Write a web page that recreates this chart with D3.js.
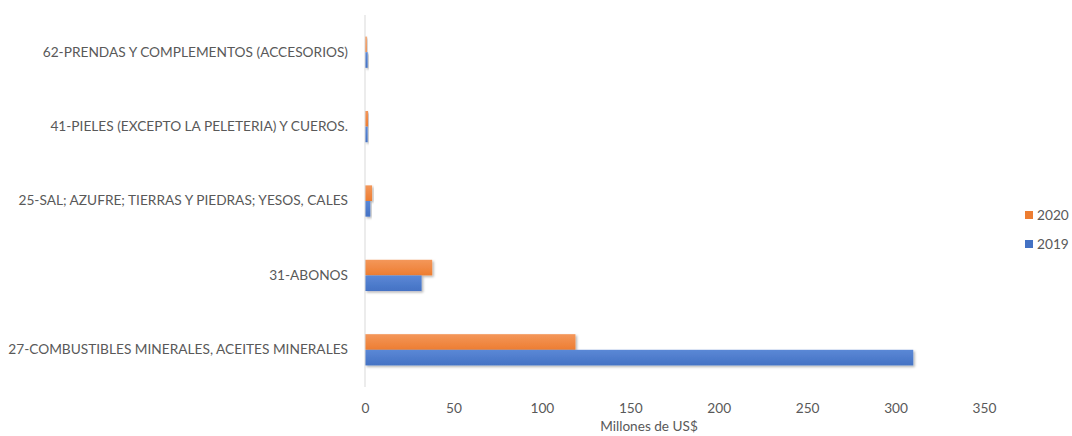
<!DOCTYPE html>
<html><head><meta charset="utf-8">
<script src="https://cdn.jsdelivr.net/npm/d3@7"></script>
<style>
body{margin:0;background:#fff;}
text{font-family:Lato,"Open Sans",sans-serif;fill:#595959;}
</style></head>
<body><svg id="c" width="1072" height="436"></svg>
<script>
const categories = ["62-PRENDAS Y COMPLEMENTOS (ACCESORIOS)","41-PIELES (EXCEPTO LA PELETERIA) Y CUEROS.","25-SAL; AZUFRE; TIERRAS Y PIEDRAS; YESOS, CALES","31-ABONOS","27-COMBUSTIBLES MINERALES, ACEITES MINERALES"];
const seriesNames = ["2020","2019"];
const values2020 = [1.0, 1.7, 4, 38, 119];
const values2019 = [1.5, 1.5, 3, 32, 310];
const xTicks = [0,50,100,150,200,250,300,350];
const colors = {"2020":"#ED7D31","2019":"#4472C4"};
const colorsLight = {"2020":"#F4975A","2019":"#5B88D6"};

const svg = d3.select("#c");
const mLeft = 365, mRight = 984, mTop = 15, mBottom = 387;
const x = d3.scaleLinear().domain([0,350]).range([mLeft,mRight]);
const y = d3.scaleBand().domain(categories).range([mTop,mBottom]).paddingInner(0.58).paddingOuter(0.29);
const ys = d3.scaleBand().domain(seriesNames).range([0,y.bandwidth()]);

const defs = svg.append("defs");
seriesNames.forEach(s=>{
  const g = defs.append("linearGradient").attr("id","g"+s).attr("x1",0).attr("x2",0).attr("y1",0).attr("y2",1);
  g.append("stop").attr("offset","0%").attr("stop-color",colorsLight[s]);
  g.append("stop").attr("offset","100%").attr("stop-color",colors[s]);
});
const f = defs.append("filter").attr("id","sh").attr("x","-5%").attr("y","-20%").attr("width","120%").attr("height","160%");
f.append("feDropShadow").attr("dx",1.5).attr("dy",1.5).attr("stdDeviation",1).attr("flood-color","#000").attr("flood-opacity",0.3);

const data = {"2020":values2020,"2019":values2019};
seriesNames.forEach(s=>{
  svg.append("g").selectAll("rect").data(categories).join("rect")
    .attr("x",x(0))
    .attr("y",(c)=>y(c)+ys(s))
    .attr("width",(c,i)=>x(data[s][i])-x(0))
    .attr("height",ys.bandwidth())
    .attr("fill","url(#g"+s+")")
    .attr("filter","url(#sh)");
});

svg.append("line").attr("x1",x(0)).attr("x2",x(0)).attr("y1",mTop).attr("y2",mBottom)
  .attr("stroke","#d9d9d9").attr("stroke-width",1);

const yAxis = d3.axisLeft(y).tickSize(0).tickPadding(17);
const ya = svg.append("g").attr("transform",`translate(${x(0)},0)`).call(yAxis);
ya.select(".domain").remove();
ya.selectAll("text").style("font-size","13.7px").style("font-family","Lato, 'Open Sans', sans-serif").attr("fill","#595959");

const xAxis = d3.axisBottom(x).tickValues(xTicks).tickSize(0).tickPadding(16).tickFormat(d3.format("d"));
const xa = svg.append("g").attr("transform",`translate(0,${mBottom})`).call(xAxis);
xa.select(".domain").remove();
xa.selectAll("text").style("font-size","13.7px").style("font-family","Lato, 'Open Sans', sans-serif").attr("fill","#595959");

svg.append("text").attr("x",649).attr("y",431).attr("text-anchor","middle").style("font-size","13.6px").text("Millones de US$");

const lg = svg.append("g");
seriesNames.forEach((s,i)=>{
  const ly = 215 + i*29;
  lg.append("rect").attr("x",1025).attr("y",ly-4).attr("width",8).attr("height",8).attr("fill",colors[s]);
  lg.append("text").attr("x",1037).attr("y",ly).attr("dy","0.35em").style("font-size","13.7px").text(s);
});
</script></body></html>
